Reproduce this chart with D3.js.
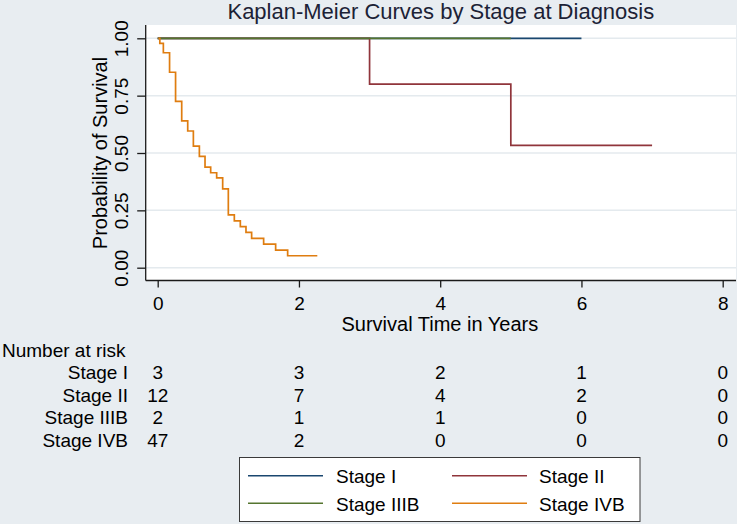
<!DOCTYPE html>
<html>
<head>
<meta charset="utf-8">
<script src="https://cdn.jsdelivr.net/npm/d3@7"></script>
<style>
  html, body { margin: 0; padding: 0; background: #e8edf1; }
  svg { display: block; font-family: "Liberation Sans", Arial, sans-serif; }
</style>
</head>
<body>
<svg id="chart" width="737" height="524"></svg>
<script>
// ---------------- data ----------------
const seriesNames = ["Stage I", "Stage II", "Stage IIIB", "Stage IVB"];
const seriesColors = ["#1a476f", "#90353b", "#55752f", "#df7d10"];

const stageITimes = [0, 6];
const stageISurv  = [1, 1];
const stageIITimes = [0, 3, 5, 7];
const stageIISurv  = [1, 0.8, 0.533, 0.533];
const stageIIIBTimes = [0, 5];
const stageIIIBSurv  = [1, 1];
const stageIVBTimes = [0.01, 0.03, 0.08, 0.168, 0.253, 0.34, 0.425, 0.505, 0.59, 0.67, 0.75,
                       0.835, 0.92, 1.0, 1.085, 1.17, 1.25, 1.33, 1.5, 1.67, 1.84, 2.26];
const stageIVBSurv  = [1, 0.978, 0.937, 0.852, 0.725, 0.64, 0.596, 0.53, 0.485, 0.438, 0.414,
                       0.392, 0.344, 0.23, 0.204, 0.179, 0.154, 0.128, 0.103, 0.077, 0.052, 0.052];

const xTicks = [0, 2, 4, 6, 8];
const yTicks = [0, 0.25, 0.5, 0.75, 1];

const riskTimes = [0, 2, 4, 6, 8];
const riskStageI    = [3, 3, 2, 1, 0];
const riskStageII   = [12, 7, 4, 2, 0];
const riskStageIIIB = [2, 1, 1, 0, 0];
const riskStageIVB  = [47, 2, 0, 0, 0];

const titleText = "Kaplan-Meier Curves by Stage at Diagnosis";
const xTitle = "Survival Time in Years";
const yTitle = "Probability of Survival";
const riskHeader = "Number at risk";

// ---------------- layout ----------------
const svg = d3.select("#chart");
const W = 737, H = 524;
const plot = { left: 145.7, right: 736, top: 25, bottom: 280.5 };

const x = d3.scaleLinear().domain([0, 8]).range([157.7, 722.7]);
const y = d3.scaleLinear().domain([0, 1]).range([267.7, 38.3]);

svg.append("rect").attr("width", W).attr("height", H).attr("fill", "#e8edf1");
svg.append("rect")
  .attr("x", plot.left).attr("y", plot.top)
  .attr("width", plot.right - plot.left).attr("height", plot.bottom - plot.top)
  .attr("fill", "#ffffff");

// gridlines
svg.append("g").selectAll("line").data(yTicks).join("line")
  .attr("x1", plot.left).attr("x2", plot.right)
  .attr("y1", d => y(d)).attr("y2", d => y(d))
  .attr("stroke", "#e4eaee").attr("stroke-width", 1.5);

// title
svg.append("text")
  .attr("x", (plot.left + plot.right) / 2).attr("y", 18.5)
  .attr("text-anchor", "middle")
  .attr("font-size", 22).attr("fill", "#1c2236")
  .text(titleText);

// curves
const lineGen = d3.line()
  .x(d => x(d[0])).y(d => y(d[1]))
  .curve(d3.curveStepAfter);

const seriesData = [
  d3.zip(stageITimes, stageISurv),
  d3.zip(stageIITimes, stageIISurv),
  d3.zip(stageIIIBTimes, stageIIIBSurv),
  d3.zip(stageIVBTimes, stageIVBSurv)
];

svg.append("g").selectAll("path").data(seriesData).join("path")
  .attr("d", d => lineGen(d))
  .attr("fill", "none")
  .attr("stroke", (d, i) => seriesColors[i])
  .attr("stroke-width", 1.7);

// axes
const xAxis = d3.axisBottom(x).tickValues(xTicks).tickFormat(d3.format("d"))
  .tickSizeInner(7).tickSizeOuter(0).tickPadding(9);
const gx = svg.append("g").attr("transform", `translate(0,${plot.bottom})`).call(xAxis);
gx.select(".domain").attr("d", `M${plot.left},0H${plot.right}`).attr("stroke", "#1a1a1a").attr("stroke-width", 1.3);
gx.selectAll(".tick line").attr("stroke", "#1a1a1a").attr("stroke-width", 1.3);
gx.selectAll(".tick text").attr("font-size", 19).attr("fill", "#000")
  .attr("font-family", "Liberation Sans, Arial, sans-serif");

const yAxis = d3.axisLeft(y).tickValues(yTicks).tickFormat(d3.format(".2f"))
  .tickSizeInner(8.5).tickSizeOuter(0);
const gy = svg.append("g").attr("transform", `translate(${plot.left},0)`).call(yAxis);
gy.select(".domain").attr("d", `M0,${plot.top}V${plot.bottom}`).attr("stroke", "#1a1a1a").attr("stroke-width", 1.3);
gy.selectAll(".tick line").attr("stroke", "#1a1a1a").attr("stroke-width", 1.3);
gy.selectAll(".tick text")
  .attr("x", 0).attr("dy", null).attr("y", -17.4)
  .attr("transform", "rotate(-90)")
  .attr("text-anchor", "middle")
  .attr("font-size", 19).attr("fill", "#000")
  .attr("font-family", "Liberation Sans, Arial, sans-serif");

// axis titles
svg.append("text")
  .attr("x", (plot.left + plot.right) / 2 - 1).attr("y", 331)
  .attr("text-anchor", "middle").attr("font-size", 20).attr("fill", "#000")
  .text(xTitle);

svg.append("text")
  .attr("transform", `translate(107,${(y(0) + y(1)) / 2}) rotate(-90)`)
  .attr("text-anchor", "middle").attr("font-size", 20).attr("fill", "#000")
  .text(yTitle);

// number at risk table
const riskRows = [riskStageI, riskStageII, riskStageIIIB, riskStageIVB];
const rowBase = [379.3, 401.7, 424.3, 446.7];
svg.append("text").attr("x", 2).attr("y", 356.7)
  .attr("font-size", 19).attr("fill", "#000").text(riskHeader);

const rows = svg.append("g").selectAll("g").data(riskRows).join("g");
rows.append("text")
  .attr("x", 128).attr("y", (d, i) => rowBase[i])
  .attr("text-anchor", "end").attr("font-size", 19).attr("fill", "#000")
  .text((d, i) => seriesNames[i]);
rows.each(function(row, i) {
  d3.select(this).selectAll("text.num").data(row).join("text")
    .attr("class", "num")
    .attr("x", (d, j) => x(riskTimes[j]))
    .attr("y", rowBase[i])
    .attr("text-anchor", "middle").attr("font-size", 19).attr("fill", "#000")
    .text(d => d);
});

// legend
const legend = svg.append("g");
legend.append("rect")
  .attr("x", 239.5).attr("y", 457.5).attr("width", 400.5).attr("height", 64)
  .attr("fill", "#ffffff").attr("stroke", "#3a3a3a").attr("stroke-width", 1);
const legPos = [
  { lx: 248, tx: 336, ly: 475.7, ty: 483.3 },
  { lx: 452, tx: 539, ly: 475.7, ty: 483.3 },
  { lx: 248, tx: 336, ly: 503.3, ty: 511.3 },
  { lx: 452, tx: 539, ly: 503.3, ty: 511.3 }
];
const items = legend.selectAll("g").data(seriesNames).join("g");
items.append("line")
  .attr("x1", (d, i) => legPos[i].lx).attr("x2", (d, i) => legPos[i].lx + 75)
  .attr("y1", (d, i) => legPos[i].ly).attr("y2", (d, i) => legPos[i].ly)
  .attr("stroke", (d, i) => seriesColors[i]).attr("stroke-width", 1.5);
items.append("text")
  .attr("x", (d, i) => legPos[i].tx).attr("y", (d, i) => legPos[i].ty)
  .attr("font-size", 19).attr("fill", "#000")
  .text(d => d);
</script>
</body>
</html>
